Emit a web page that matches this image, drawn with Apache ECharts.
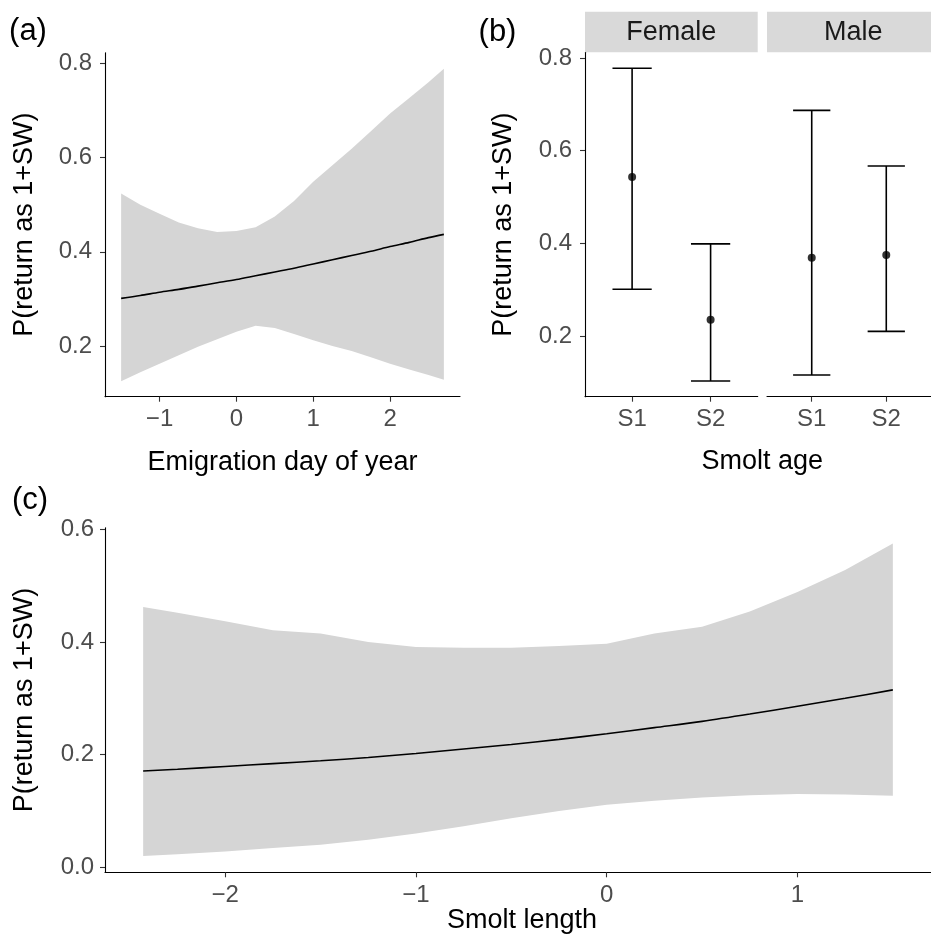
<!DOCTYPE html>
<html>
<head>
<meta charset="utf-8">
<title>P(return as 1+SW)</title>
<script src="https://cdn.jsdelivr.net/npm/echarts@6/dist/echarts.min.js"></script>
<style>
    html, body, #main {
        width: 100%;
        height: 100%;
        margin: 0;
        background: #fff;
    }
</style>
</head>
<body>
<div id="main"></div>
<script>
    // (a) emigration day of year
    var dayX     = [-1.5, -1.25, -1, -0.75, -0.5, -0.25, 0, 0.25, 0.5, 0.75, 1, 1.25, 1.5, 1.75, 2, 2.25, 2.5, 2.7];
    var dayFit   = [0.301, 0.307, 0.314, 0.320, 0.327, 0.334, 0.341, 0.349, 0.357, 0.365, 0.374, 0.383, 0.392, 0.401, 0.411, 0.420, 0.430, 0.437];
    var dayUpper = [0.524, 0.500, 0.481, 0.462, 0.450, 0.442, 0.444, 0.452, 0.475, 0.508, 0.549, 0.584, 0.619, 0.656, 0.694, 0.727, 0.760, 0.789];
    var dayLower = [0.125, 0.144, 0.162, 0.180, 0.198, 0.214, 0.230, 0.243, 0.238, 0.225, 0.212, 0.200, 0.189, 0.176, 0.162, 0.150, 0.138, 0.128];

    // (b) smolt age, by sex
    var ageCats    = ['S1', 'S2'];
    var femaleMid  = [0.543, 0.235];
    var femaleLow  = [0.301, 0.103];
    var femaleHigh = [0.778, 0.399];
    var maleMid    = [0.369, 0.375];
    var maleLow    = [0.116, 0.210];
    var maleHigh   = [0.687, 0.567];

    // (c) smolt length
    var lenX     = [-2.43, -2.25, -2, -1.75, -1.5, -1.25, -1, -0.75, -0.5, -0.25, 0, 0.25, 0.5, 0.75, 1, 1.25, 1.5];
    var lenFit   = [0.171, 0.174, 0.179, 0.184, 0.189, 0.195, 0.202, 0.210, 0.218, 0.227, 0.237, 0.248, 0.259, 0.272, 0.286, 0.300, 0.315];
    var lenUpper = [0.462, 0.452, 0.437, 0.421, 0.415, 0.400, 0.391, 0.390, 0.390, 0.393, 0.397, 0.415, 0.427, 0.454, 0.489, 0.528, 0.575];
    var lenLower = [0.020, 0.023, 0.028, 0.034, 0.040, 0.049, 0.060, 0.073, 0.087, 0.100, 0.111, 0.118, 0.124, 0.128, 0.130, 0.129, 0.127];

    // tick labels
    var dayTicks  = [-1, 0, 1, 2];
    var probTicks = [0.2, 0.4, 0.6, 0.8];
    var lenTicks  = [-2, -1, 0, 1];
    var lenProbTicks = [0, 0.2, 0.4, 0.6];

    var FONT = 'Liberation Sans, Arial, sans-serif';
    var RIBBON = '#d5d5d5';

    function numFmt(v) {
        return v < 0 ? '\u2212' + Math.abs(v) : String(v);
    }

    function valueAxis(gridIndex, min, max, ticks, fmt, margin) {
        return {
            type: 'value',
            gridIndex: gridIndex,
            min: min,
            max: max,
            splitLine: {show: false},
            axisLine: {show: true, onZero: false, lineStyle: {color: '#000', width: 1.1}},
            axisTick: {show: true, customValues: ticks, length: 5, lineStyle: {color: '#333', width: 1.1}},
            axisLabel: {
                customValues: ticks,
                formatter: fmt,
                color: '#4d4d4d',
                fontSize: 24,
                fontFamily: FONT,
                margin: margin
            }
        };
    }

    function ribbon(xs, lo, hi) {
        return function (params, api) {
            var pts = [];
            for (var i = 0; i < xs.length; i++) pts.push(api.coord([xs[i], hi[i]]));
            for (var j = xs.length - 1; j >= 0; j--) pts.push(api.coord([xs[j], lo[j]]));
            return {type: 'polygon', shape: {points: pts}, style: {fill: RIBBON}};
        };
    }

    function errorBar(params, api) {
        var x = api.value(0);
        var pLo = api.coord([x, api.value(1)]);
        var pHi = api.coord([x, api.value(2)]);
        var half = api.size([0.25, 0])[0];
        var st = {stroke: '#000', lineWidth: 1.6};
        return {
            type: 'group',
            children: [
                {type: 'line', shape: {x1: pLo[0], y1: pLo[1], x2: pHi[0], y2: pHi[1]}, style: st},
                {type: 'line', shape: {x1: pHi[0] - half, y1: pHi[1], x2: pHi[0] + half, y2: pHi[1]}, style: st},
                {type: 'line', shape: {x1: pLo[0] - half, y1: pLo[1], x2: pLo[0] + half, y2: pLo[1]}, style: st}
            ]
        };
    }

    function zip(xs, ys) {
        return xs.map(function (x, i) { return [x, ys[i]]; });
    }

    function label(text, x, y, size, color, rot) {
        return {
            type: 'text',
            x: x, y: y,
            rotation: rot || 0,
            silent: true,
            style: {
                text: text, x: 0, y: 0,
                fill: color || '#000',
                font: size + 'px ' + FONT,
                textAlign: 'center', align: 'center',
                textVerticalAlign: 'middle', verticalAlign: 'middle'
            }
        };
    }

    var chart = echarts.init(document.getElementById('main'));

    var ageX = [1, 2];
    var ageFmt = function (v) { return ageCats[v - 1]; };
    var probFmt = function (v) { return v.toFixed(1); };

    var yMale = valueAxis(2, 0.069, 0.812, probTicks, probFmt, 13);
    yMale.show = false;

    var option = {
        animation: false,
        backgroundColor: '#fff',
        grid: [
            {left: 105, top: 52.7, width: 355, height: 344},
            {left: 585, top: 52.5, width: 172.7, height: 344.2},
            {left: 767, top: 52.5, width: 172.7, height: 344.2},
            {left: 105, top: 527.7, width: 834.4, height: 344.6}
        ],
        xAxis: [
            valueAxis(0, -1.71, 2.91, dayTicks, numFmt, 11),
            valueAxis(1, 0.4, 2.6, ageX, ageFmt, 11),
            valueAxis(2, 0.4, 2.6, ageX, ageFmt, 11),
            valueAxis(3, -2.63, 1.70, lenTicks, numFmt, 11)
        ],
        yAxis: [
            valueAxis(0, 0.092, 0.823, probTicks, probFmt, 13),
            valueAxis(1, 0.069, 0.812, probTicks, probFmt, 13),
            yMale,
            valueAxis(3, -0.009, 0.603, lenProbTicks, probFmt, 11)
        ],
        series: [
            {
                type: 'custom', xAxisIndex: 0, yAxisIndex: 0, silent: true, z: 1,
                renderItem: ribbon(dayX, dayLower, dayUpper),
                data: [[dayX[0], dayLower[0]]]
            },
            {
                type: 'line', xAxisIndex: 0, yAxisIndex: 0, z: 3,
                data: zip(dayX, dayFit), smooth: 0.3, showSymbol: false,
                lineStyle: {color: '#000', width: 1.6}
            },
            {
                type: 'custom', xAxisIndex: 1, yAxisIndex: 1, z: 3,
                renderItem: errorBar,
                encode: {x: 0, y: [1, 2]},
                data: ageX.map(function (x, i) { return [x, femaleLow[i], femaleHigh[i]]; })
            },
            {
                type: 'scatter', xAxisIndex: 1, yAxisIndex: 1, z: 4,
                symbolSize: 8, itemStyle: {color: '#000'},
                data: zip(ageX, femaleMid)
            },
            {
                type: 'custom', xAxisIndex: 2, yAxisIndex: 2, z: 3,
                renderItem: errorBar,
                encode: {x: 0, y: [1, 2]},
                data: ageX.map(function (x, i) { return [x, maleLow[i], maleHigh[i]]; })
            },
            {
                type: 'scatter', xAxisIndex: 2, yAxisIndex: 2, z: 4,
                symbolSize: 8, itemStyle: {color: '#000'},
                data: zip(ageX, maleMid)
            },
            {
                type: 'custom', xAxisIndex: 3, yAxisIndex: 3, silent: true, z: 1,
                renderItem: ribbon(lenX, lenLower, lenUpper),
                data: [[lenX[0], lenLower[0]]]
            },
            {
                type: 'line', xAxisIndex: 3, yAxisIndex: 3, z: 3,
                data: zip(lenX, lenFit), smooth: 0.3, showSymbol: false,
                lineStyle: {color: '#000', width: 1.6}
            }
        ],
        graphic: [
            // facet strips
            {type: 'rect', shape: {x: 585, y: 11.7, width: 172.7, height: 40.6}, style: {fill: '#d9d9d9'}, silent: true},
            {type: 'rect', shape: {x: 767, y: 11.7, width: 172.7, height: 40.6}, style: {fill: '#d9d9d9'}, silent: true},
            label('Female', 671.3, 33, 27, '#1a1a1a'),
            label('Male', 853.3, 33, 27, '#1a1a1a'),
            // panel tags
            label('(a)', 28, 31.7, 31),
            label('(b)', 497.5, 32, 31),
            label('(c)', 30, 500, 31),
            // axis titles
            label('Emigration day of year', 282.5, 463, 27),
            label('Smolt age', 762.3, 462, 27),
            label('Smolt length', 522, 921, 27),
            label('P(return as 1+SW)', 25, 224.7, 27, '#000', Math.PI / 2),
            label('P(return as 1+SW)', 504, 224.7, 27, '#000', Math.PI / 2),
            label('P(return as 1+SW)', 25, 700, 27, '#000', Math.PI / 2)
        ]
    };

    chart.setOption(option);
    window.onresize = chart.resize;
</script>
</body>
</html>
